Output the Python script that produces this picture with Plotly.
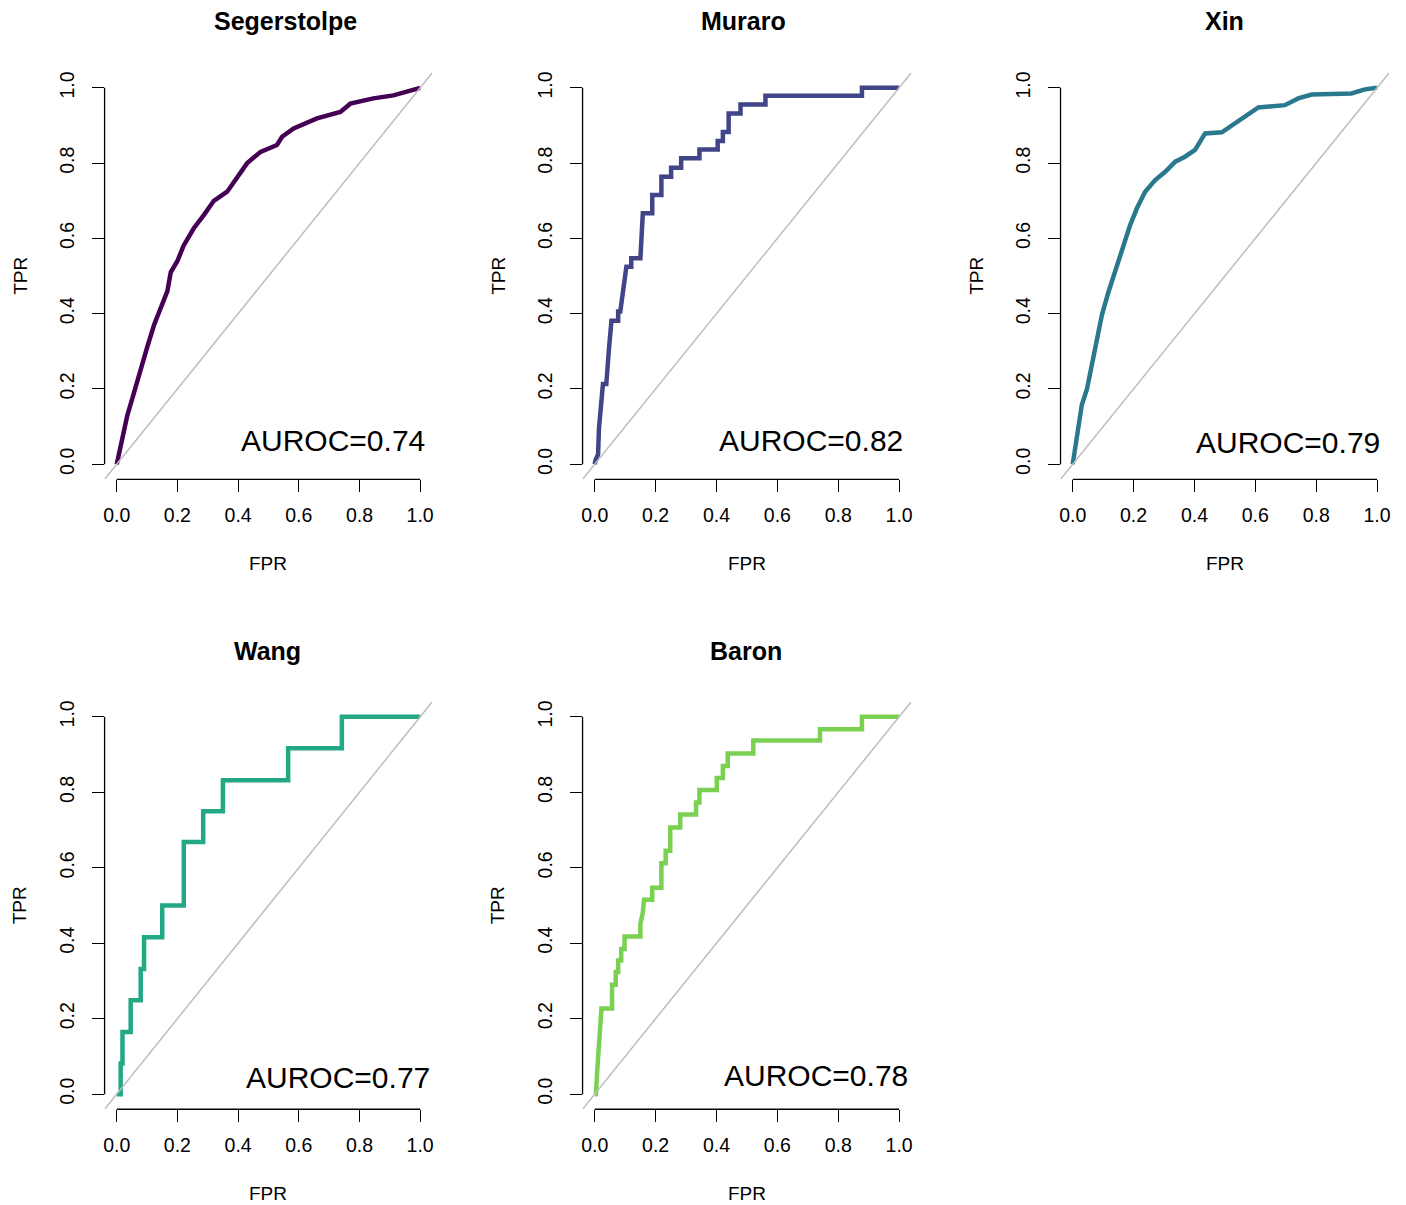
import plotly.graph_objects as go

# ---------------- data ----------------
datasets = ["Segerstolpe", "Muraro", "Xin", "Wang", "Baron"]
auroc_labels = ["AUROC=0.74", "AUROC=0.82", "AUROC=0.79", "AUROC=0.77", "AUROC=0.78"]
colors = ["#440154", "#414487", "#2A788E", "#22A884", "#7AD151"]

tick_vals = [0.0, 0.2, 0.4, 0.6, 0.8, 1.0]
tick_text = ["0.0", "0.2", "0.4", "0.6", "0.8", "1.0"]
axis_range = [-0.04, 1.04]

seg_fpr = [0, 0.013, 0.035, 0.057, 0.079, 0.10, 0.123, 0.145, 0.167, 0.178, 0.20, 0.22,
           0.254, 0.287, 0.32, 0.364, 0.397, 0.43, 0.474, 0.528, 0.545, 0.583, 0.66,
           0.737, 0.77, 0.846, 0.912, 0.956, 1.0]
seg_tpr = [0, 0.052, 0.13, 0.19, 0.255, 0.31, 0.37, 0.415, 0.46, 0.51, 0.54, 0.58,
           0.627, 0.662, 0.70, 0.724, 0.76, 0.80, 0.83, 0.848, 0.87, 0.892, 0.919,
           0.936, 0.958, 0.972, 0.98, 0.99, 1.0]

mur_fpr = [0, 0.003, 0.011, 0.014, 0.027, 0.038, 0.047, 0.055, 0.077, 0.077, 0.084, 0.091,
           0.098, 0.104, 0.120, 0.120, 0.150, 0.153, 0.158, 0.189, 0.189, 0.219, 0.219,
           0.251, 0.251, 0.284, 0.284, 0.344, 0.344, 0.404, 0.404, 0.421, 0.421, 0.440,
           0.440, 0.479, 0.479, 0.561, 0.561, 0.878, 0.878, 1.0]
mur_tpr = [0, 0.012, 0.026, 0.096, 0.213, 0.213, 0.309, 0.381, 0.381, 0.406, 0.406, 0.454,
           0.503, 0.525, 0.525, 0.547, 0.547, 0.618, 0.667, 0.667, 0.715, 0.715, 0.764,
           0.764, 0.788, 0.788, 0.813, 0.813, 0.836, 0.836, 0.859, 0.859, 0.883, 0.883,
           0.932, 0.932, 0.956, 0.956, 0.979, 0.979, 1.0, 1.0]

xin_fpr = [0, 0.009, 0.02, 0.03, 0.047, 0.063, 0.08, 0.096, 0.118, 0.135, 0.151, 0.173,
           0.189, 0.211, 0.238, 0.271, 0.304, 0.337, 0.369, 0.402, 0.435, 0.49, 0.533,
           0.566, 0.61, 0.697, 0.741, 0.785, 0.916, 0.96, 1.0]
xin_tpr = [0, 0.052, 0.114, 0.158, 0.2, 0.264, 0.326, 0.397, 0.459, 0.503, 0.543, 0.592,
           0.636, 0.68, 0.724, 0.755, 0.777, 0.804, 0.817, 0.835, 0.879, 0.882, 0.905,
           0.923, 0.948, 0.954, 0.972, 0.982, 0.985, 0.996, 1.0]

wang_fpr = [0, 0.013, 0.013, 0.019, 0.019, 0.046, 0.046, 0.079, 0.079, 0.09, 0.09, 0.15,
            0.15, 0.221, 0.221, 0.285, 0.285, 0.35, 0.35, 0.565, 0.565, 0.742, 0.742, 1.0]
wang_tpr = [0, 0, 0.081, 0.081, 0.165, 0.165, 0.249, 0.249, 0.332, 0.332, 0.416, 0.416,
            0.5, 0.5, 0.668, 0.668, 0.75, 0.75, 0.832, 0.832, 0.917, 0.917, 1.0, 1.0]

bar_fpr = [0, 0.004, 0.008, 0.011, 0.018, 0.022, 0.057, 0.057, 0.069, 0.069, 0.077, 0.077,
           0.087, 0.087, 0.098, 0.098, 0.150, 0.150, 0.158, 0.162, 0.189, 0.189, 0.219,
           0.219, 0.233, 0.233, 0.248, 0.248, 0.281, 0.281, 0.333, 0.333, 0.344, 0.344,
           0.401, 0.401, 0.421, 0.421, 0.437, 0.437, 0.521, 0.521, 0.740, 0.740, 0.878,
           0.878, 1.0]
bar_tpr = [0, 0, 0.06, 0.099, 0.22, 0.227, 0.227, 0.290, 0.290, 0.324, 0.324, 0.354,
           0.354, 0.385, 0.385, 0.418, 0.418, 0.451, 0.482, 0.515, 0.515, 0.547, 0.547,
           0.612, 0.612, 0.645, 0.645, 0.707, 0.707, 0.741, 0.741, 0.773, 0.773, 0.806,
           0.806, 0.838, 0.838, 0.870, 0.870, 0.903, 0.903, 0.937, 0.937, 0.967, 0.967,
           1.0, 1.0]

curves_fpr = [seg_fpr, mur_fpr, xin_fpr, wang_fpr, bar_fpr]
curves_tpr = [seg_tpr, mur_tpr, xin_tpr, wang_tpr, bar_tpr]

# AUROC label anchor (right edge, vertical middle) in data units, per panel
auroc_x = [1.024, 1.018, 1.016, 1.039, 1.035]
auroc_y = [0.064, 0.064, 0.058, 0.044, 0.050]

# ---------------- layout geometry ----------------
W, H = 1406, 1205
col_dom = [[0.07383, 0.30740], [0.41451, 0.64879], [0.75519, 0.98947]]
row_dom = [[0.60324, 0.94116], [0.07959, 0.41834]]
panel_pos = [(0, 0), (0, 1), (0, 2), (1, 0), (1, 1)]
title_x = [285, 744.5, 1226, 267.5, 747]
title_y = [19.5, 650.5]
xlab_y = [562.5, 1193.5]
ylab_x = 19
FONT = "Liberation Sans, Arial, Helvetica, sans-serif"

fig = go.Figure()
annotations = []
shapes = []

for i, name in enumerate(datasets):
    r, c = panel_pos[i]
    ax = "" if i == 0 else str(i + 1)
    xref, yref = "x" + ax, "y" + ax

    fig.add_trace(go.Scatter(
        x=curves_fpr[i], y=curves_tpr[i], mode="lines",
        line=dict(color=colors[i], width=4.5),
        xaxis=xref, yaxis=yref, showlegend=False, hoverinfo="skip"))
    fig.add_trace(go.Scatter(
        x=axis_range, y=axis_range, mode="lines",
        line=dict(color="#BEBEBE", width=1.5),
        xaxis=xref, yaxis=yref, showlegend=False, hoverinfo="skip"))

    axis_common = dict(range=axis_range, tickvals=tick_vals, ticktext=tick_text,
                       ticks="outside", ticklen=12, tickwidth=1.3, tickcolor="black",
                       showgrid=False, zeroline=False, showline=False,
                       tickfont=dict(family=FONT, size=19.5, color="black"), fixedrange=True)
    fig.layout["xaxis" + ax] = dict(domain=col_dom[c], anchor=yref, ticklabelstandoff=6,
                                    **axis_common)
    fig.layout["yaxis" + ax] = dict(domain=row_dom[r], anchor=xref, tickangle=-90,
                                    ticklabelstandoff=10, **axis_common)

    # R-style axis lines spanning first..last tick
    shapes.append(dict(type="line", xref=xref, yref=yref + " domain",
                       x0=tick_vals[0], x1=tick_vals[-1], y0=0, y1=0,
                       line=dict(color="black", width=1.3)))
    shapes.append(dict(type="line", xref=xref + " domain", yref=yref,
                       x0=0, x1=0, y0=tick_vals[0], y1=tick_vals[-1],
                       line=dict(color="black", width=1.3)))

    # panel title
    annotations.append(dict(text="<b>" + name + "</b>", x=title_x[i] / W, y=1 - title_y[r] / H,
                            xref="paper", yref="paper", xanchor="center", yanchor="middle",
                            showarrow=False, font=dict(family=FONT, size=25, color="black")))
    # axis titles
    xc = (col_dom[c][0] + col_dom[c][1]) / 2
    yc = (row_dom[r][0] + row_dom[r][1]) / 2
    annotations.append(dict(text="FPR", x=xc, y=1 - xlab_y[r] / H, xref="paper", yref="paper",
                            xanchor="center", yanchor="middle", showarrow=False,
                            font=dict(family=FONT, size=19, color="black")))
    annotations.append(dict(text="TPR", x=(col_dom[c][0] * W - 104 + ylab_x) / W, y=yc,
                            xref="paper", yref="paper", xanchor="center", yanchor="middle",
                            textangle=-90, showarrow=False,
                            font=dict(family=FONT, size=19, color="black")))
    # AUROC text
    annotations.append(dict(text=auroc_labels[i], x=auroc_x[i], y=auroc_y[i], xref=xref, yref=yref,
                            xanchor="right", yanchor="middle", showarrow=False,
                            font=dict(family=FONT, size=30, color="black")))

fig.update_layout(width=W, height=H, margin=dict(l=0, r=0, t=0, b=0),
                  paper_bgcolor="white", plot_bgcolor="white",
                  annotations=annotations, shapes=shapes, showlegend=False)

fig.write_html("out.html", config={"displayModeBar": False},
               post_script="document.body.style.margin='0';")
